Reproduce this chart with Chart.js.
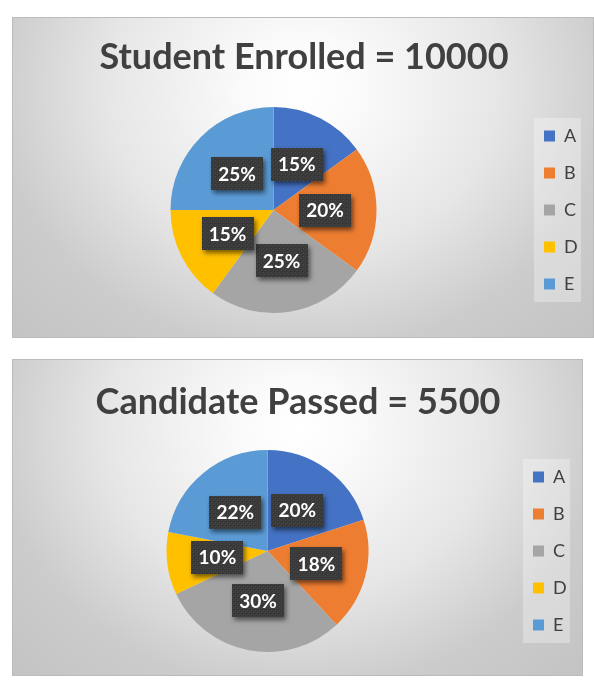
<!DOCTYPE html>
<html>
<head>
<meta charset="utf-8">
<script src="https://cdn.jsdelivr.net/npm/chart.js@4.4.0/dist/chart.umd.min.js"></script>
<style>
  body { margin: 0; background: #fff; width: 594px; height: 684px; position: relative; overflow: hidden; }
  .panel {
    position: absolute; box-sizing: border-box; border: 1px solid #bcbcbc;
    background: radial-gradient(ellipse farthest-corner at 50% 22%, #ffffff 0%, #fafafa 15%, #e6e6e6 48%, #cccccc 75%, #c3c3c3 100%);
  }
  .panel canvas { display: block; }
  #p1 { left: 12px; top: 17px; width: 582px; height: 321px; }
  #p2 { left: 12px; top: 359px; width: 571px; height: 317px; }
</style>
</head>
<body>
<div class="panel" id="p1"><canvas id="chart1" width="580" height="319"></canvas></div>
<div class="panel" id="p2"><canvas id="chart2" width="569" height="315"></canvas></div>
<script>
// data
var labels = ['A', 'B', 'C', 'D', 'E'];
var enrolledPct = [15, 20, 25, 15, 25];
var passedPct = [20, 18, 30, 10, 22];
var colors = ['#4472C4', '#ED7D31', '#A5A5A5', '#FFC000', '#5B9BD5'];
var titles = ['Student Enrolled = 10000', 'Candidate Passed = 5500'];

// fit title size to the width of the original heading
var m = document.createElement('canvas').getContext('2d');
m.font = 'bold 100px Lato';
var titleSize = Math.round(100 * 412 / m.measureText(titles[0]).width);

function makePattern(ctx) {
  var c = document.createElement('canvas');
  c.width = 4; c.height = 4;
  var p = c.getContext('2d');
  p.fillStyle = '#3a3a3a'; p.fillRect(0, 0, 4, 4);
  p.fillStyle = '#4a4a4a'; p.fillRect(0, 0, 1, 1); p.fillRect(2, 2, 1, 1);
  p.fillStyle = '#2f2f2f'; p.fillRect(1, 1, 1, 1);
  return ctx.createPattern(c, 'repeat');
}

// dark label boxes at half radius
var boxLabels = {
  id: 'boxLabels',
  afterDatasetsDraw: function(chart) {
    var ctx = chart.ctx;
    var meta = chart.getDatasetMeta(0);
    var data = chart.data.datasets[0].data;
    var pat = makePattern(ctx);
    ctx.save();
    ctx.font = 'bold 19px Lato';
    meta.data.forEach(function(arc, i) {
      var p = arc.tooltipPosition();
      var text = data[i] + '%';
      var w = Math.round(ctx.measureText(text).width + 14), h = 33;
      ctx.save();
      ctx.shadowColor = 'rgba(0,0,0,0.55)';
      ctx.shadowBlur = 5;
      ctx.shadowOffsetX = 2;
      ctx.shadowOffsetY = 3;
      ctx.fillStyle = pat;
      ctx.fillRect(Math.round(p.x - w / 2), Math.round(p.y - h / 2), w, h);
      ctx.restore();
      ctx.fillStyle = '#ffffff';
      ctx.textAlign = 'center';
      ctx.textBaseline = 'middle';
      ctx.fillText(text, p.x, p.y + 1);
    });
    ctx.restore();
  }
};

// light panel behind the legend
var legendPanel = {
  id: 'legendPanel',
  beforeDraw: function(chart) {
    var lg = chart.legend, ctx = chart.ctx;
    var pad = lg.options.labels.padding;
    var n = chart.data.labels.length;
    var step = 18 + pad;
    var y0 = ((lg.top + pad) + (lg.bottom - n * step)) / 2;
    ctx.save();
    ctx.fillStyle = 'rgba(255,255,255,0.3)';
    ctx.fillRect(lg.left + pad - 10, y0 - 9, 47, n * step - pad + 18);
    ctx.restore();
  }
};

function makeChart(id, title, values, radius, titleCenter, areaTop, pad) {
  var pt = titleCenter - titleSize / 2;
  return new Chart(document.getElementById(id), {
    type: 'pie',
    data: {
      labels: labels,
      datasets: [{ data: values, backgroundColor: colors, borderWidth: 0, hoverOffset: 0 }]
    },
    options: {
      responsive: false,
      animation: false,
      devicePixelRatio: 1,
      radius: radius,
      layout: { padding: pad },
      plugins: {
        title: {
          display: true, text: title, color: '#404040',
          font: { family: 'Lato', weight: 'bold', size: titleSize, lineHeight: 1 },
          padding: { top: pt, bottom: areaTop - pt - titleSize }
        },
        legend: {
          position: 'right', fullSize: false, maxWidth: 61,
          labels: { boxWidth: 11, boxHeight: 11, padding: 19, color: '#404040', font: { family: 'Lato', size: 18 } }
        },
        tooltip: { enabled: false }
      }
    },
    plugins: [legendPanel, boxLabels]
  });
}

makeChart('chart1', titles[0], enrolledPct, 103, 39.5, 89, { left: 9, right: 7, top: 0, bottom: 24 });
makeChart('chart2', titles[1], passedPct, 101, 42, 89, { left: 8, right: 7, top: 0, bottom: 22 });
</script>
</body>
</html>
